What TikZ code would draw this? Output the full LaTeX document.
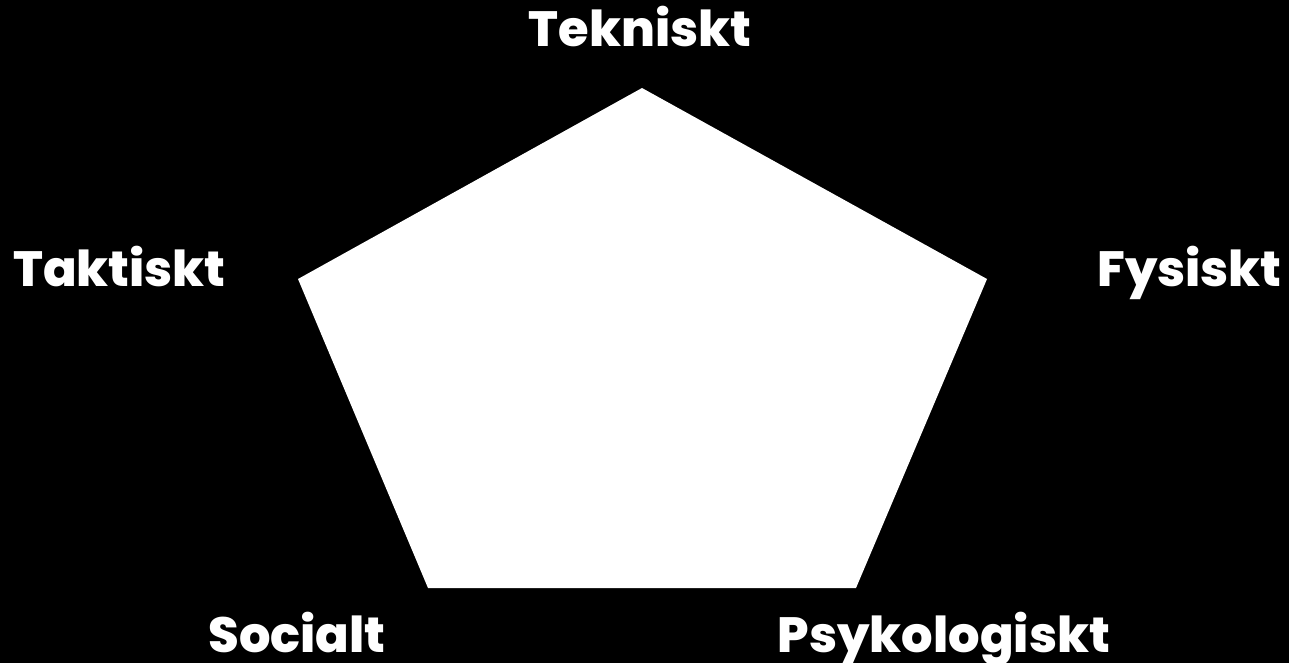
\documentclass[tikz,border=0pt]{standalone}
\usepackage{fontspec}
\setmainfont{Poppins}[BoldFont=* ExtraBold]
\begin{document}
\begin{tikzpicture}[x=1pt,y=-1pt,
  lbl/.style={text=white,inner sep=0pt,anchor=base,font=\fontsize{49.5}{54}\selectfont\bfseries}]
\fill[black] (0,0) rectangle (1289,663);
\useasboundingbox (0,0) rectangle (1289,663);
\coordinate (vT) at (642,88);
\coordinate (vF) at (987,279);
\coordinate (vP) at (856,588);
\coordinate (vS) at (428,588);
\coordinate (vK) at (298,279);
\fill[white] (vT) -- (vF) -- (vP) -- (vS) -- (vK) -- cycle;
\node[lbl] (tek) at (640,47) {Tekniskt};
\node[lbl] (tak) at (119.5,286) {Taktiskt};
\node[lbl] (fys) at (1189.5,286) {Fysiskt};
\node[lbl] (soc) at (297,652) {Socialt};
\node[lbl] (psy) at (944,652) {Psykologiskt};
\end{tikzpicture}
\end{document}
